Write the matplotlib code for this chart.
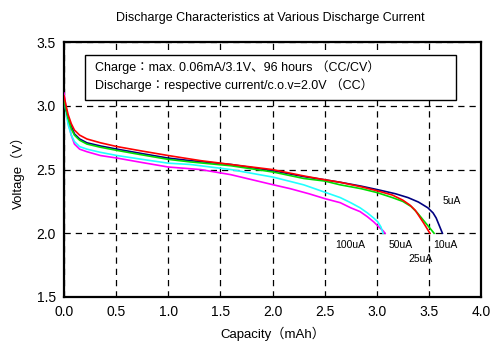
import matplotlib
matplotlib.use('Agg')
import matplotlib.pyplot as plt
from matplotlib.patches import Rectangle

# discharge curves (capacity mAh, voltage V)
cap_100 = [0.0, 0.02, 0.04, 0.07, 0.1, 0.15, 0.22, 0.35, 0.51, 0.75, 1.0, 1.31, 1.6, 2.01, 2.17, 2.35, 2.51,
           2.65, 2.75, 2.84, 2.91, 2.97, 3.02, 3.06, 3.08]
v_100 = [3.10, 2.98, 2.87, 2.77, 2.70, 2.66, 2.64, 2.61, 2.59, 2.555, 2.52, 2.50, 2.46, 2.38, 2.35, 2.31, 2.27,
         2.24, 2.20, 2.17, 2.13, 2.09, 2.05, 2.02, 2.00]

cap_50 = [0.0, 0.02, 0.04, 0.07, 0.1, 0.15, 0.22, 0.35, 0.51, 0.75, 1.0, 1.21, 1.6, 2.01, 2.3, 2.51, 2.65, 2.75,
          2.84, 2.91, 2.97, 3.01, 3.04, 3.06]
v_50 = [3.05, 2.95, 2.85, 2.77, 2.72, 2.68, 2.66, 2.635, 2.61, 2.58, 2.55, 2.54, 2.50, 2.44, 2.38, 2.32, 2.28, 2.24,
        2.20, 2.16, 2.12, 2.09, 2.05, 2.00]

cap_25 = [0.0, 0.02, 0.04, 0.07, 0.1, 0.15, 0.22, 0.35, 0.51, 0.75, 1.0, 1.31, 1.6, 2.0, 2.3, 2.5, 2.65, 2.85,
          3.02, 3.15, 3.25, 3.32, 3.37, 3.41, 3.45, 3.48, 3.51]
v_25 = [3.08, 3.00, 2.93, 2.86, 2.81, 2.77, 2.74, 2.71, 2.68, 2.645, 2.61, 2.57, 2.54, 2.50, 2.45, 2.42, 2.40, 2.365,
        2.33, 2.30, 2.26, 2.22, 2.18, 2.13, 2.08, 2.04, 2.00]

cap_10 = [0.0, 0.02, 0.04, 0.07, 0.1, 0.15, 0.22, 0.35, 0.51, 0.75, 1.0, 1.21, 1.6, 2.01, 2.3, 2.5, 2.65, 2.85,
          3.0, 3.15, 3.25, 3.33, 3.39, 3.44, 3.49, 3.52, 3.55]
v_10 = [3.05, 2.97, 2.90, 2.82, 2.77, 2.73, 2.70, 2.675, 2.65, 2.615, 2.58, 2.56, 2.53, 2.48, 2.43, 2.41, 2.38,
        2.35, 2.32, 2.28, 2.25, 2.21, 2.16, 2.11, 2.06, 2.03, 2.00]

cap_5 = [0.0, 0.02, 0.04, 0.07, 0.1, 0.15, 0.22, 0.35, 0.51, 0.75, 1.0, 1.21, 1.6, 2.01, 2.3, 2.5, 2.65, 2.85,
         3.02, 3.18, 3.30, 3.40, 3.49, 3.54, 3.57, 3.60, 3.63]
v_5 = [3.05, 2.97, 2.91, 2.84, 2.78, 2.74, 2.71, 2.685, 2.66, 2.625, 2.59, 2.57, 2.54, 2.49, 2.445, 2.42, 2.40,
       2.37, 2.34, 2.31, 2.28, 2.245, 2.20, 2.16, 2.12, 2.06, 2.00]

labels = ['100uA', '50uA', '25uA', '10uA', '5uA']
label_x = [2.75, 3.23, 3.42, 3.66, 3.72]
label_y = [1.91, 1.91, 1.80, 1.91, 2.25]

fonts = ['Liberation Sans', 'Noto Sans CJK JP', 'DejaVu Sans']
plt.rcParams['font.family'] = fonts

fig = plt.figure(figsize=(5, 3.6), dpi=100)
ax = fig.add_axes([0.128, 0.175, 0.834, 0.708])

ax.plot(cap_100, v_100, color='#ff00ff', lw=1.2, zorder=3)
ax.plot(cap_50, v_50, color='#22ffff', lw=1.2, zorder=3)
ax.plot(cap_5, v_5, color='#000080', lw=1.2, zorder=3)
ax.plot(cap_10, v_10, color='#00dd00', lw=1.2, zorder=4)
ax.plot(cap_25, v_25, color='#ff0000', lw=1.2, zorder=5)

for lab, x, y in zip(labels, label_x, label_y):
    ax.text(x, y, lab, fontsize=7.5, ha='center', va='center', zorder=6)

ax.set_xlim(0, 4.0)
ax.set_ylim(1.5, 3.5)
ax.set_xticks([0.0, 0.5, 1.0, 1.5, 2.0, 2.5, 3.0, 3.5, 4.0])
ax.set_yticks([1.5, 2.0, 2.5, 3.0, 3.5])
ax.xaxis.set_major_formatter(matplotlib.ticker.FormatStrFormatter('%.1f'))
ax.yaxis.set_major_formatter(matplotlib.ticker.FormatStrFormatter('%.1f'))
ax.tick_params(length=0, labelsize=10, pad=6)
ax.grid(True, color='black', linestyle=(0, (5, 4)), lw=0.9)
ax.set_axisbelow(True)
for s in ax.spines.values():
    s.set_linewidth(1.6)

ax.set_xlabel('Capacity（mAh）', fontsize=9.5, labelpad=5)
ax.set_ylabel('Voltage（V）', fontsize=9.5, labelpad=8)
fig.text(0.54, 0.95, 'Discharge Characteristics at Various Discharge Current',
         fontsize=9, ha='center', va='center')

# note box
ax.add_patch(Rectangle((0.05, 0.773), 0.89, 0.176, transform=ax.transAxes,
                       facecolor='white', edgecolor='black', lw=1.0, zorder=7))
ax.text(0.075, 0.90, 'Charge：max. 0.06mA/3.1V、96 hours （CC/CV）',
        transform=ax.transAxes, fontsize=9, va='center', zorder=8)
ax.text(0.075, 0.83, 'Discharge：respective current/c.o.v=2.0V （CC）',
        transform=ax.transAxes, fontsize=9, va='center', zorder=8)

fig.savefig('out.png', dpi=100)
